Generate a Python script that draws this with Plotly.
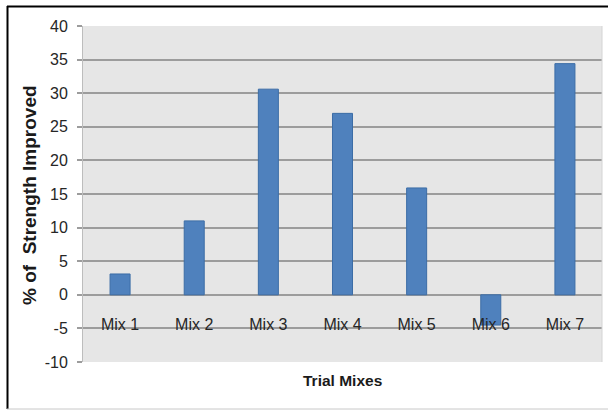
import plotly.graph_objects as go

# Trial mix results: percentage change in strength
mixes = ["Mix 1", "Mix 2", "Mix 3", "Mix 4", "Mix 5", "Mix 6", "Mix 7"]
strength_gain = [3.1, 11.0, 30.6, 27.0, 15.9, -4.5, 34.4]

y_ticks = [-10, -5, 0, 5, 10, 15, 20, 25, 30, 35, 40]

x_title = "Trial Mixes"
y_title = "% of  Strength Improved"

W, H = 608, 410
L, R, T, B = 83, 6, 26, 48
plot_w = W - L - R
plot_h = H - T - B


def px_x(px):
    return (px - L) / plot_w


def px_y(py):
    return (H - B - py) / plot_h


tick_font = dict(family="Liberation Sans, Arial, sans-serif", size=16, color="#262626")
x_title_font = dict(family="Liberation Sans, Arial, sans-serif", size=15.5, color="#1a1a1a")
y_title_font = dict(family="Liberation Sans, Arial, sans-serif", size=19, color="#1a1a1a")
grid_col = "#9c9c9c"

fig = go.Figure(
    go.Bar(
        x=mixes,
        y=strength_gain,
        width=0.27,
        marker=dict(color="#4f81bd", line=dict(color="#3c6da6", width=1)),
        hoverinfo="x+y",
    )
)

# zero level sits 10/50 of the way up the value range
zero_frac = (0 - y_ticks[0]) / (y_ticks[-1] - y_ticks[0])

fig.update_layout(
    width=W,
    height=H,
    margin=dict(l=L, r=R, t=T, b=B, pad=0),
    paper_bgcolor="white",
    plot_bgcolor="#e6e6e6",
    showlegend=False,
    xaxis=dict(
        anchor="free",
        position=zero_frac,
        showgrid=False,
        showline=False,
        zeroline=False,
        ticks="",
        tickfont=tick_font,
        ticklabelstandoff=18,
        fixedrange=True,
    ),
    yaxis=dict(
        range=[y_ticks[0], y_ticks[-1]],
        tickvals=y_ticks,
        ticktext=[str(v) for v in y_ticks],
        showgrid=True,
        gridcolor=grid_col,
        gridwidth=1.8,
        zeroline=True,
        zerolinecolor=grid_col,
        zerolinewidth=1.8,
        showline=True,
        linecolor="#bdbdbd",
        linewidth=1,
        ticks="outside",
        ticklen=5,
        tickwidth=1.8,
        tickcolor=grid_col,
        tickfont=tick_font,
        ticklabelstandoff=6,
        fixedrange=True,
    ),
    annotations=[
        dict(
            text="<b>" + x_title + "</b>",
            xref="paper", yref="paper",
            x=px_x(342), y=px_y(380),
            xanchor="center", yanchor="middle",
            showarrow=False, font=x_title_font,
        ),
        dict(
            text="<b>" + y_title.replace("  ", "&nbsp; ") + "</b>",
            xref="paper", yref="paper",
            x=px_x(29), y=px_y(195),
            xanchor="center", yanchor="middle",
            textangle=-90,
            showarrow=False, font=y_title_font,
        ),
    ],
    shapes=[
        # chart frame
        dict(type="line", xref="paper", yref="paper",
             x0=px_x(7.5), x1=px_x(7.5), y0=px_y(6), y1=px_y(409),
             line=dict(color="black", width=2)),
        dict(type="line", xref="paper", yref="paper",
             x0=px_x(7), x1=px_x(608), y0=px_y(6.5), y1=px_y(6.5),
             line=dict(color="black", width=2)),
        dict(type="line", xref="paper", yref="paper",
             x0=px_x(7), x1=px_x(608), y0=px_y(409), y1=px_y(409),
             line=dict(color="#c8c8c8", width=1)),
        # right edge of the plotting area
        dict(type="line", xref="paper", yref="paper",
             x0=1, x1=1, y0=0, y1=1,
             line=dict(color="#d4d4d4", width=1)),
    ],
)

fig.write_html("out.html", config={"displayModeBar": False})
